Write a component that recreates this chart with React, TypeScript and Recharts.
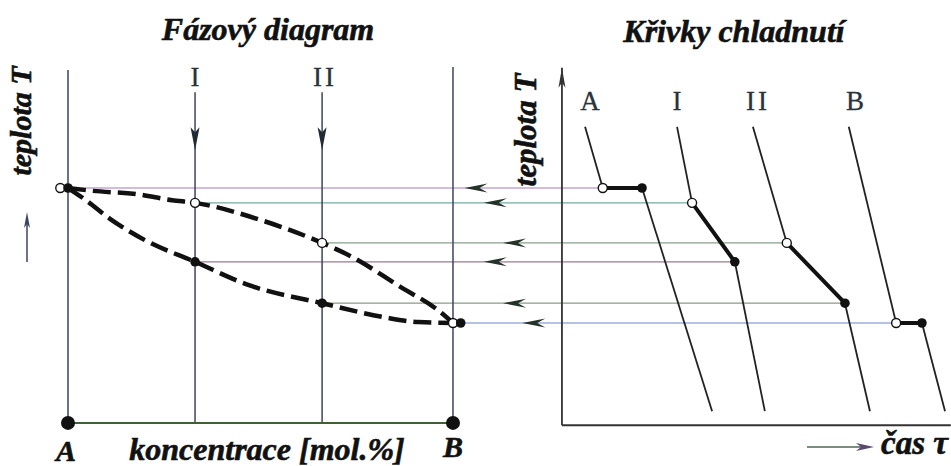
import { ComposedChart, Line, Scatter, XAxis, YAxis } from 'recharts';

// alloys on the phase diagram (mol.% B)
const alloyNames = ['A', 'I', 'II', 'B'];
const alloyConc = [0, 33, 66, 100];

// liquidus and solidus
const liquidusConc = [0, 6, 18, 27, 33, 50, 66, 74, 86, 96, 100];
const liquidusTemp = [1000, 994, 986, 973, 967, 929, 878, 846, 782, 729, 700];
const solidusConc = [0, 4, 11, 20, 33, 47, 66, 82, 91, 100];
const solidusTemp = [1000, 977, 931, 884, 836, 784, 744, 713, 702, 700];

// where each alloy starts / ends crystallising
const liquidusAtAlloy = [1000, 967, 878, 700];
const solidusAtAlloy = [1000, 836, 744, 700];

// cooling curves (time axis)
const coolStartTime = [6, 29.9, 49.6, 74.5];
const liquidusTime = [10.6, 33.8, 58.4, 86.8];
const solidusTime = [20.8, 44.9, 73.5, 93.5];
const coolEndTime = [39, 52.7, 80, 99.5];
const coolStartTemp = 1136;
const coolEndTemp = 504;

// frame of the phase diagram
const frameTopTemp = [1262, 1213, 1213, 1269];
const frameBottomTemp = 478;
const alloyArrowTemp = 1084;

// frame of the cooling-curve plot
const timeAxisTemp = 473;
const tempAxisTop = 1267;
const timeAxisEnd = 101;

// connector arrows between the panels (position on the concentration scale)
const connectorArrowConc = [103, 108, 113, 108, 113, 118];
const connectorColors = ['#a67bb5', '#72aaa2', '#86a08a', '#9a7a8e', '#8c9a86', '#6f86c8'];

// layout of the shared horizontal scale
const X_DOMAIN: [number, number] = [-17.66, 229.35];
const Y_DOMAIN: [number, number] = [382.2, 1417.8];
const TIME_ORIGIN = 128.3;
const tx = (t: number) => TIME_ORIGIN + t;

const pt = (x: number, y: number) => ({ x, y });

const openDot = (p: any) => (
  <circle cx={p.cx} cy={p.cy} r={4.5} fill="#fff" stroke="#111" strokeWidth={1.4} />
);
const fullDot = (p: any) => <circle cx={p.cx} cy={p.cy} r={4.8} fill="#111" />;
const bigDot = (p: any) => <circle cx={p.cx} cy={p.cy} r={7} fill="#111" />;
const leftArrow = (p: any) => (
  <path
    d={`M${p.cx},${p.cy} L${p.cx + 23},${p.cy - 4.5} L${p.cx + 15},${p.cy} L${p.cx + 23},${p.cy + 4.5} Z`}
    fill="#24332a"
  />
);
const downArrow = (p: any) => (
  <path
    d={`M${p.cx},${p.cy} L${p.cx - 4.5},${p.cy - 23} L${p.cx},${p.cy - 18} L${p.cx + 4.5},${p.cy - 23} Z`}
    fill="#222a35"
  />
);
const upArrow = (p: any) => (
  <path
    d={`M${p.cx},${p.cy} L${p.cx - 3.5},${p.cy + 20} L${p.cx},${p.cy + 15} L${p.cx + 3.5},${p.cy + 20} Z`}
    fill="#333"
  />
);

const liquidus = liquidusConc.map((c, i) => pt(c, liquidusTemp[i]));
const solidus = solidusConc.map((c, i) => pt(c, solidusTemp[i]));

const connectors = [
  [alloyConc[0], tx(liquidusTime[0]), liquidusAtAlloy[0]],
  [alloyConc[1], tx(liquidusTime[1]), liquidusAtAlloy[1]],
  [alloyConc[2], tx(liquidusTime[2]), liquidusAtAlloy[2]],
  [alloyConc[1], tx(solidusTime[1]), solidusAtAlloy[1]],
  [alloyConc[2], tx(solidusTime[2]), solidusAtAlloy[2]],
  [alloyConc[3], tx(liquidusTime[3]), liquidusAtAlloy[3]],
];

const serifBold = {
  fontFamily: '"Liberation Serif", "DejaVu Serif", serif',
  fontWeight: 'bold' as const,
  fontStyle: 'italic' as const,
  fill: '#111',
  stroke: '#111',
  strokeWidth: 0.6,
};
const serifPlain = {
  fontFamily: '"Liberation Serif", "DejaVu Serif", serif',
  fill: '#2a323c',
  stroke: '#2a323c',
  strokeWidth: 0.3,
  fontSize: 27,
};

export default function App() {
  const W = 951;
  const H = 466;
  return (
    <div style={{ position: 'absolute', left: 0, top: 0, width: W, height: H, background: '#fff' }}>
      <ComposedChart width={W} height={H} margin={{ top: 0, right: 0, bottom: 0, left: 0 }}>
        <XAxis type="number" dataKey="x" domain={X_DOMAIN} hide allowDataOverflow />
        <YAxis type="number" dataKey="y" domain={Y_DOMAIN} hide allowDataOverflow />

        {connectors.map(([c, t, temp], i) => (
          <Line
            key={`con${i}`}
            data={[pt(c, temp), pt(t, temp)]}
            dataKey="y"
            type="linear"
            stroke={connectorColors[i]}
            strokeWidth={1.2}
            dot={false}
            isAnimationActive={false}
          />
        ))}

        {alloyConc.map((c, i) => (
          <Line
            key={`v${i}`}
            data={[pt(c, frameTopTemp[i]), pt(c, frameBottomTemp)]}
            dataKey="y"
            type="linear"
            stroke="#3b4560"
            strokeWidth={1.5}
            dot={false}
            isAnimationActive={false}
          />
        ))}
        <Line
          data={[pt(alloyConc[0], frameBottomTemp), pt(alloyConc[3], frameBottomTemp)]}
          dataKey="y"
          type="linear"
          stroke="#3f5f35"
          strokeWidth={2}
          dot={false}
          isAnimationActive={false}
        />

        <Line
          data={[pt(tx(0), timeAxisTemp), pt(tx(0), tempAxisTop)]}
          dataKey="y"
          type="linear"
          stroke="#333"
          strokeWidth={1.8}
          dot={false}
          isAnimationActive={false}
        />
        <Line
          data={[pt(tx(0), timeAxisTemp), pt(tx(timeAxisEnd), timeAxisTemp)]}
          dataKey="y"
          type="linear"
          stroke="#333"
          strokeWidth={2}
          dot={false}
          isAnimationActive={false}
        />

        <Line
          data={liquidus}
          dataKey="y"
          type="monotone"
          stroke="#111"
          strokeWidth={4.5}
          strokeDasharray="18 7"
          dot={false}
          isAnimationActive={false}
        />
        <Line
          data={solidus}
          dataKey="y"
          type="monotone"
          stroke="#111"
          strokeWidth={4.5}
          strokeDasharray="18 7"
          dot={false}
          isAnimationActive={false}
        />

        {alloyNames.map((n, i) => (
          <Line
            key={`cool${n}`}
            data={[
              pt(tx(coolStartTime[i]), coolStartTemp),
              pt(tx(liquidusTime[i]), liquidusAtAlloy[i]),
            ]}
            dataKey="y"
            type="linear"
            stroke="#222"
            strokeWidth={1.8}
            dot={false}
            isAnimationActive={false}
          />
        ))}
        {alloyNames.map((n, i) => (
          <Line
            key={`cryst${n}`}
            data={[
              pt(tx(liquidusTime[i]), liquidusAtAlloy[i]),
              pt(tx(solidusTime[i]), solidusAtAlloy[i]),
            ]}
            dataKey="y"
            type="linear"
            stroke="#111"
            strokeWidth={4}
            dot={false}
            isAnimationActive={false}
          />
        ))}
        {alloyNames.map((n, i) => (
          <Line
            key={`solid${n}`}
            data={[
              pt(tx(solidusTime[i]), solidusAtAlloy[i]),
              pt(tx(coolEndTime[i]), coolEndTemp),
            ]}
            dataKey="y"
            type="linear"
            stroke="#222"
            strokeWidth={1.8}
            dot={false}
            isAnimationActive={false}
          />
        ))}

        <Scatter
          data={connectorArrowConc.map((c, i) => pt(c, connectors[i][2]))}
          shape={leftArrow}
          isAnimationActive={false}
        />
        <Scatter
          data={[pt(alloyConc[1], alloyArrowTemp), pt(alloyConc[2], alloyArrowTemp)]}
          shape={downArrow}
          isAnimationActive={false}
        />
        <Scatter data={[pt(tx(0), tempAxisTop)]} shape={upArrow} isAnimationActive={false} />
        <Scatter
          data={[pt(alloyConc[0], frameBottomTemp), pt(alloyConc[3], frameBottomTemp)]}
          shape={bigDot}
          isAnimationActive={false}
        />
        <Scatter
          data={[
            pt(alloyConc[0] - 2, liquidusAtAlloy[0]),
            pt(alloyConc[1], liquidusAtAlloy[1]),
            pt(alloyConc[2], liquidusAtAlloy[2]),
            pt(alloyConc[3], liquidusAtAlloy[3]),
            ...alloyNames.map((_, i) => pt(tx(liquidusTime[i]), liquidusAtAlloy[i])),
          ]}
          shape={openDot}
          isAnimationActive={false}
        />
        <Scatter
          data={[
            pt(alloyConc[0], solidusAtAlloy[0]),
            pt(alloyConc[1], solidusAtAlloy[1]),
            pt(alloyConc[2], solidusAtAlloy[2]),
            pt(alloyConc[3] + 2, solidusAtAlloy[3]),
            ...alloyNames.map((_, i) => pt(tx(solidusTime[i]), solidusAtAlloy[i])),
          ]}
          shape={fullDot}
          isAnimationActive={false}
        />
      </ComposedChart>

      <svg
        width={W}
        height={H}
        style={{ position: 'absolute', left: 0, top: 0, pointerEvents: 'none' }}
      >
        <text x={268} y={40} textAnchor="middle" fontSize={32} {...serifBold}>
          Fázový diagram
        </text>
        <text x={734} y={42} textAnchor="middle" fontSize={32} {...serifBold}>
          Křivky chladnutí
        </text>
        <text transform="translate(31,121) rotate(-90)" textAnchor="middle" fontSize={30} {...serifBold}>
          teplota T
        </text>
        <text transform="translate(536,130) rotate(-90)" textAnchor="middle" fontSize={31} {...serifBold}>
          teplota T
        </text>
        <text x={66} y={461} textAnchor="middle" fontSize={30} {...serifBold}>
          A
        </text>
        <text x={267} y={460} textAnchor="middle" fontSize={32} {...serifBold}>
          koncentrace [mol.%]
        </text>
        <text x={453} y={457} textAnchor="middle" fontSize={30} {...serifBold}>
          B
        </text>
        <text x={881} y={454} fontSize={33} {...serifBold}>
          čas τ
        </text>
        <line x1={807} y1={447} x2={868} y2={447} stroke="#4a6a50" strokeWidth={1.5} />
        <path d="M874,447 L856,443 L861,447 L856,451 Z" fill="#5a4a70" />
        <line x1={27} y1={262} x2={27} y2={218} stroke="#3b4560" strokeWidth={1.5} />
        <path d="M27,212 L24,228 L27,224 L30,228 Z" fill="#3b4560" />

        <text x={195} y={86} textAnchor="middle" {...serifPlain}>I</text>
        <text x={325} y={86} textAnchor="middle" letterSpacing={3} {...serifPlain}>II</text>
        <text x={590} y={110} textAnchor="middle" {...serifPlain}>A</text>
        <text x={677} y={110} textAnchor="middle" {...serifPlain}>I</text>
        <text x={758} y={110} textAnchor="middle" letterSpacing={3} {...serifPlain}>II</text>
        <text x={855} y={110} textAnchor="middle" {...serifPlain}>B</text>
      </svg>
    </div>
  );
}
